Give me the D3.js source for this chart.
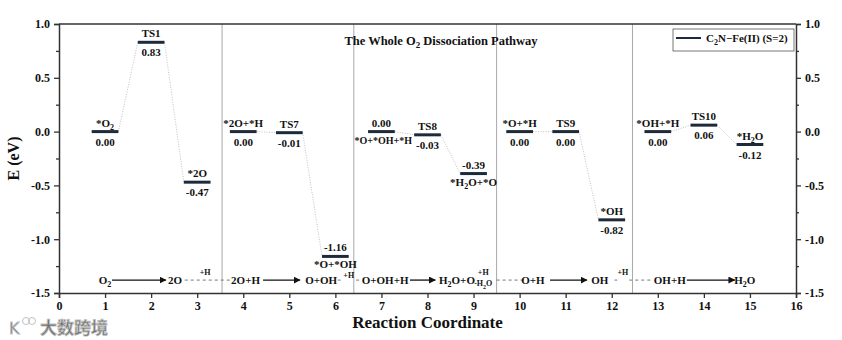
<!DOCTYPE html>
<html>
<head>
<meta charset="utf-8">
<script src="https://cdn.jsdelivr.net/npm/d3@7"></script>
<style>
  html, body { margin: 0; padding: 0; background: #fff; }
  svg { display: block; }
  text { font-family: "Liberation Serif", "Times New Roman", serif; font-weight: bold; fill: #111; }
</style>
</head>
<body>
<svg id="chart" width="842" height="340"></svg>
<script>
// Reaction steps, energies (eV) and state labels ("_x" marks a subscript)
const steps    = [1, 2, 3, 4, 5, 6, 7, 8, 9, 10, 11, 12, 13, 14, 15];
const energies = [0.00, 0.83, -0.47, 0.00, -0.01, -1.16, 0.00, -0.03, -0.39, 0.00, 0.00, -0.82, 0.00, 0.06, -0.12];
const stateNames = ["*O_2", "TS1", "*2O", "*2O+*H", "TS7", "*O+*OH", "*O+*OH+*H", "TS8", "*H_2O+*O",
                    "*O+*H", "TS9", "*OH", "*OH+*H", "TS10", "*H_2O"];
// states whose name sits under the level (value above)
const nameBelow = [6, 7, 9];
// stage groups connected by dotted lines
const stages = [[1, 2, 3], [4, 5, 6], [7, 8, 9], [10, 11, 12], [13, 14, 15]];
// stage separators (reaction coordinate)
const separators = [3.54, 6.4, 9.5, 12.45];

// overall reaction scheme written along the bottom
const schemeTexts = [
  { t: "O_2", x: 1.0 }, { t: "2O", x: 2.52 }, { t: "2O+H", x: 4.05 }, { t: "O+OH", x: 5.69 },
  { t: "O+OH+H", x: 7.08 }, { t: "H_2O+O", x: 8.64 }, { t: "O+H", x: 10.29 }, { t: "OH", x: 11.74 },
  { t: "OH+H", x: 13.26 }, { t: "H_2O", x: 14.89 }
];
const schemeArrows = [[1.15, 2.32], [4.43, 5.23], [7.62, 8.17], [10.66, 11.46], [13.63, 14.67]];
const schemeDashes = [[2.73, 3.75], [6.05, 6.13], [6.45, 6.55], [9.5, 10.1], [12.06, 12.12], [12.38, 12.84]];
const schemeSmall = [
  { t: "+H", x: 3.17, dy: -5 }, { t: "+H", x: 6.29, dy: -2.5 }, { t: "+H", x: 9.21, dy: -5 },
  { t: "-H_2O", x: 9.21, dy: 6 }, { t: "+H", x: 12.24, dy: -5 }
];

const yTicks = [-1.5, -1.0, -0.5, 0.0, 0.5, 1.0];
const yMinor = [-1.25, -0.75, -0.25, 0.25, 0.75];
const xTicks = d3.range(0, 17);

const svg = d3.select("#chart");
const x = d3.scaleLinear().domain([0, 16]).range([59, 796]);
const y = d3.scaleLinear().domain([-1.5, 1]).range([293, 24]);
const halfW = 0.29;
const barColor = "#1c2a3b";

// write a string with "_x" subscripts into a text element
function rich(sel, s, subSize) {
  const parts = s.split(/(_\w)/).filter(p => p.length);
  let shifted = false;
  parts.forEach(p => {
    if (p[0] === "_") {
      sel.append("tspan").attr("dy", 3).style("font-size", subSize || "8px").text(p[1]);
      shifted = true;
    } else {
      sel.append("tspan").attr("dy", shifted ? -3 : 0).text(p);
      shifted = false;
    }
  });
  return sel;
}

// stage separators
svg.append("g").selectAll("line").data(separators).join("line")
  .attr("x1", d => x(d)).attr("x2", d => x(d))
  .attr("y1", y(1)).attr("y2", y(-1.5))
  .attr("stroke", "#a8a8a8").attr("stroke-width", 1);

// dotted connectors between levels
const links = [];
stages.forEach(g => { for (let i = 0; i < g.length - 1; i++) links.push([g[i] - 1, g[i + 1] - 1]); });
svg.append("g").selectAll("line").data(links).join("line")
  .attr("x1", d => x(steps[d[0]] + halfW)).attr("y1", d => y(energies[d[0]]))
  .attr("x2", d => x(steps[d[1]] - halfW)).attr("y2", d => y(energies[d[1]]))
  .attr("stroke", "#b0b0b0").attr("stroke-width", 0.8).attr("stroke-dasharray", "1,1.5");

// energy levels
svg.append("g").selectAll("line").data(steps).join("line")
  .attr("x1", (d) => x(d - halfW)).attr("x2", d => x(d + halfW))
  .attr("y1", (d, i) => y(energies[i])).attr("y2", (d, i) => y(energies[i]))
  .attr("stroke", barColor).attr("stroke-width", 3);

// level labels
steps.forEach((s, i) => {
  const below = nameBelow.includes(s);
  const yy = y(energies[i]);
  const wide = s === 7;
  const nameT = svg.append("text").attr("text-anchor", "middle")
    .style("font-size", wide ? "10px" : "11px")
    .attr("x", wide ? x(s + 0.04) : x(s)).attr("y", below ? yy + 12 : yy - 5);
  rich(nameT, stateNames[i]);
  svg.append("text").attr("text-anchor", "middle").style("font-size", "11px")
    .attr("x", x(s)).attr("y", below ? yy - 5 : yy + 14)
    .text(energies[i].toFixed(2));
});

// reaction scheme along the bottom
const rowY = y(-1.38) + 4;
const defs = svg.append("defs");
defs.append("marker").attr("id", "arr").attr("viewBox", "0 0 10 10")
  .attr("refX", 9).attr("refY", 5).attr("markerWidth", 7).attr("markerHeight", 7)
  .attr("markerUnits", "userSpaceOnUse").attr("orient", "auto")
  .append("path").attr("d", "M0,0 L10,5 L0,10 Z").attr("fill", "#111");
svg.append("g").selectAll("line").data(schemeArrows).join("line")
  .attr("x1", d => x(d[0])).attr("x2", d => x(d[1]))
  .attr("y1", rowY - 4).attr("y2", rowY - 4)
  .attr("stroke", "#111").attr("stroke-width", 1.3).attr("marker-end", "url(#arr)");
svg.append("g").selectAll("line").data(schemeDashes).join("line")
  .attr("x1", d => x(d[0])).attr("x2", d => x(d[1]))
  .attr("y1", rowY - 4).attr("y2", rowY - 4)
  .attr("stroke", "#777").attr("stroke-width", 1).attr("stroke-dasharray", "3,3");
schemeTexts.forEach(d => {
  const t = svg.append("text").attr("text-anchor", "middle").style("font-size", "11px")
    .attr("x", x(d.x)).attr("y", rowY);
  rich(t, d.t);
});
schemeSmall.forEach(d => {
  const t = svg.append("text").attr("text-anchor", "middle").style("font-size", "8px")
    .attr("x", x(d.x)).attr("y", rowY - 4 + d.dy);
  rich(t, d.t, "6px");
});

// axes
const axisColor = "#333";
function styleAxis(g) {
  g.select(".domain").attr("stroke", axisColor).attr("stroke-width", 1.5);
  g.selectAll(".tick line").attr("stroke", axisColor).attr("stroke-width", 1.3);
  g.selectAll("text").style("font-size", "12px").style("font-family", "Liberation Serif, serif")
    .style("font-weight", "bold").attr("fill", "#111");
}
svg.append("g").attr("transform", `translate(${x(0)},0)`)
  .call(d3.axisLeft(y).tickValues(yTicks).tickSize(5).tickPadding(4).tickFormat(d => d.toFixed(1)))
  .call(styleAxis);
svg.append("g").attr("transform", `translate(${x(0)},0)`)
  .call(d3.axisLeft(y).tickValues(yMinor).tickSize(3).tickFormat(""))
  .call(styleAxis).call(g => g.select(".domain").remove());
svg.append("g").attr("transform", `translate(${x(16)},0)`)
  .call(d3.axisRight(y).tickValues(yTicks).tickSize(5).tickPadding(4).tickFormat(d => d.toFixed(1)))
  .call(styleAxis);
svg.append("g").attr("transform", `translate(${x(16)},0)`)
  .call(d3.axisRight(y).tickValues(yMinor).tickSize(3).tickFormat(""))
  .call(styleAxis).call(g => g.select(".domain").remove());
svg.append("g").attr("transform", `translate(0,${y(-1.5)})`)
  .call(d3.axisBottom(x).tickValues(xTicks).tickSize(5).tickPadding(3).tickFormat(d3.format("d")))
  .call(styleAxis);
svg.append("line").attr("x1", x(0)).attr("x2", x(16)).attr("y1", y(1)).attr("y2", y(1))
  .attr("stroke", axisColor).attr("stroke-width", 1.5);

// axis titles
svg.append("text").attr("text-anchor", "middle").style("font-size", "17px")
  .attr("x", (x(0) + x(16)) / 2).attr("y", 328).text("Reaction Coordinate");
svg.append("text").attr("text-anchor", "middle").style("font-size", "16px")
  .attr("transform", `translate(19,${y(-0.25)}) rotate(-90)`).text("E (eV)");

// chart title
rich(svg.append("text").attr("text-anchor", "middle").style("font-size", "12.5px")
  .attr("x", 441).attr("y", 45), "The Whole O_2 Dissociation Pathway", "9px");

// legend
const lg = svg.append("g");
lg.append("rect").attr("x", 673).attr("y", 29).attr("width", 121).attr("height", 22)
  .attr("fill", "#fff").attr("stroke", "#555").attr("stroke-width", 0.8);
lg.append("line").attr("x1", 676).attr("x2", 701).attr("y1", 38).attr("y2", 38)
  .attr("stroke", barColor).attr("stroke-width", 2);
rich(lg.append("text").style("font-size", "11px").attr("x", 706).attr("y", 42),
  "C_2N\u2212Fe(II) (S=2)", "8px");

// watermark
const wm = svg.append("g").attr("opacity", 0.6);
wm.append("text").attr("x", 9).attr("y", 334).style("font-family", "DejaVu Sans, sans-serif")
  .style("font-size", "16px").style("font-weight", "normal")
  .attr("fill", "#fff").attr("stroke", "#999").attr("stroke-width", 0.8).text("K");
wm.append("circle").attr("cx", 26).attr("cy", 321).attr("r", 3.5).attr("fill", "none").attr("stroke", "#999");
wm.append("circle").attr("cx", 32).attr("cy", 321).attr("r", 3.5).attr("fill", "none").attr("stroke", "#999");
wm.append("text").attr("x", 40).attr("y", 334).style("font-family", "Noto Sans CJK SC, sans-serif")
  .style("font-size", "17px").style("font-weight", "bold")
  .attr("fill", "#fff").attr("stroke", "#999").attr("stroke-width", 0.8).text("大数跨境");
</script>
</body>
</html>
